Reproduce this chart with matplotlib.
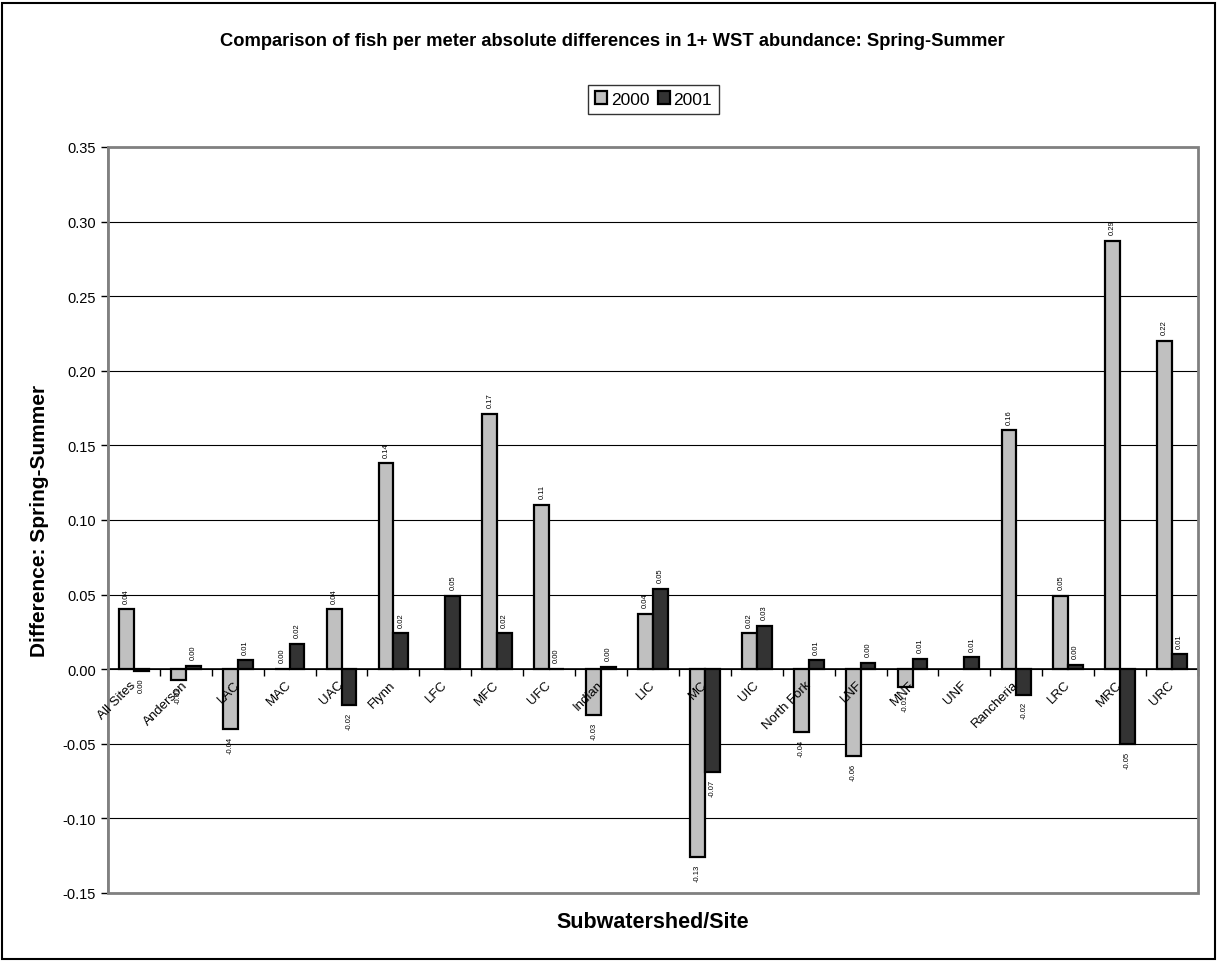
import matplotlib
matplotlib.use('Agg')
import matplotlib.pyplot as plt
import matplotlib.transforms as mtransforms
from matplotlib.patches import Rectangle
import numpy as np

plt.rcParams.update({
    'font.family': ['Liberation Sans', 'DejaVu Sans'],
    'axes.linewidth': 1.2,
})

sites = ['All Sites', 'Anderson', 'LAC', 'MAC', 'UAC', 'Flynn', 'LFC', 'MFC', 'UFC',
         'Indian', 'LIC', 'MC', 'UIC', 'North Fork', 'LNF', 'MNF', 'UNF',
         'Rancheria', 'LRC', 'MRC', 'URC']
# None = no data for that site/year
diff_2000 = [0.040, -0.007, -0.040, 0.000, 0.040, 0.138, None, 0.171, 0.110,
             -0.031, 0.037, -0.126, 0.024, -0.042, -0.058, -0.012, None,
             0.160, 0.049, 0.287, 0.220]
diff_2001 = [-0.001, 0.002, 0.006, 0.017, -0.024, 0.024, 0.049, 0.024, 0.000,
             0.0015, 0.054, -0.069, 0.029, 0.006, 0.004, 0.007, 0.008,
             -0.017, 0.003, -0.050, 0.010]
years = ['2000', '2001']
colors = ['#c0c0c0', '#333333']

fig = plt.figure(figsize=(12.17, 9.62), dpi=100)
fig.patches.append(Rectangle((0.002, 0.002), 0.996, 0.994, transform=fig.transFigure,
                             fill=False, edgecolor='black', linewidth=1.5))
ax = fig.add_axes([0.0887, 0.0707, 0.8957, 0.7755])

x = np.arange(len(sites))
w = 1 / 3.5
for i, (vals, col, lab) in enumerate(zip([diff_2000, diff_2001], colors, years)):
    xs = [xi for xi, v in zip(x, vals) if v is not None]
    vs = [v for v in vals if v is not None]
    offs = -w / 2 if i == 0 else w / 2
    ax.bar(np.array(xs) + offs, vs, width=w, color=col, edgecolor='black',
           linewidth=1.6, label=lab, zorder=3)
    for xi, v in zip(xs, vs):
        txt = f'{v:.2f}'
        if txt == '-0.00':
            txt = '0.00'
        if v >= 0:
            ax.text(xi + offs, v + 0.0045, txt, rotation=90, ha='center', va='bottom',
                    fontsize=5.5, zorder=4)
        else:
            ax.text(xi + offs, v - 0.0045, txt, rotation=90, ha='center', va='top',
                    fontsize=5.5, zorder=4)

ax.set_xlim(-0.5, len(sites) - 0.5)
ax.set_ylim(-0.15, 0.35)
ax.set_yticks(np.arange(-0.15, 0.351, 0.05))
ax.yaxis.set_major_formatter(matplotlib.ticker.FormatStrFormatter('%.2f'))
ax.tick_params(axis='y', labelsize=10.5, length=5, width=1)
ax.grid(axis='y', color='black', linewidth=0.8, zorder=0)
ax.set_axisbelow(True)

# category axis crosses at zero
for s in ['top', 'right']:
    ax.spines[s].set_visible(False)
ax.spines['left'].set_color('#808080')
ax.spines['bottom'].set_position(('data', 0))
ax.spines['bottom'].set_color('black')
ax.add_patch(Rectangle((0, 0), 1, 1, transform=ax.transAxes, fill=False,
                       edgecolor='#808080', linewidth=2, zorder=5, clip_on=False))
ax.set_xticks(x)
ax.set_xticklabels([])
ax.tick_params(axis='x', which='major', length=0)
ax.set_xticks(np.arange(-0.5, len(sites), 1), minor=True)
ax.tick_params(axis='x', which='minor', length=5, width=1, direction='out')

# category labels drawn over the bars, like the original
lab_off = mtransforms.ScaledTranslation(-4 / 100, -9 / 100, fig.dpi_scale_trans)
for xi, name in zip(x, sites):
    ax.text(xi, 0, name, rotation=45, ha='right', va='top', rotation_mode='anchor',
            fontsize=9.5, zorder=6, transform=ax.transData + lab_off)

ax.set_ylabel('Difference: Spring-Summer', fontsize=15, fontweight='bold', labelpad=10)
fig.text(0.536, 0.041, 'Subwatershed/Site', ha='center', va='center',
         fontsize=15.5, fontweight='bold')
fig.text(0.503, 0.957, 'Comparison of fish per meter absolute differences in 1+ WST abundance: Spring-Summer',
         ha='center', va='center', fontsize=13.2, fontweight='bold')

leg = fig.legend(loc='center', bbox_to_anchor=(0.537, 0.896), ncol=2, fontsize=12.5,
                 frameon=True, fancybox=False, edgecolor='black', handlelength=0.7,
                 handleheight=0.7, handletextpad=0.2, columnspacing=0.5,
                 borderpad=0.4)
leg.get_frame().set_linewidth(1)

fig.savefig('out.png', dpi=100)
